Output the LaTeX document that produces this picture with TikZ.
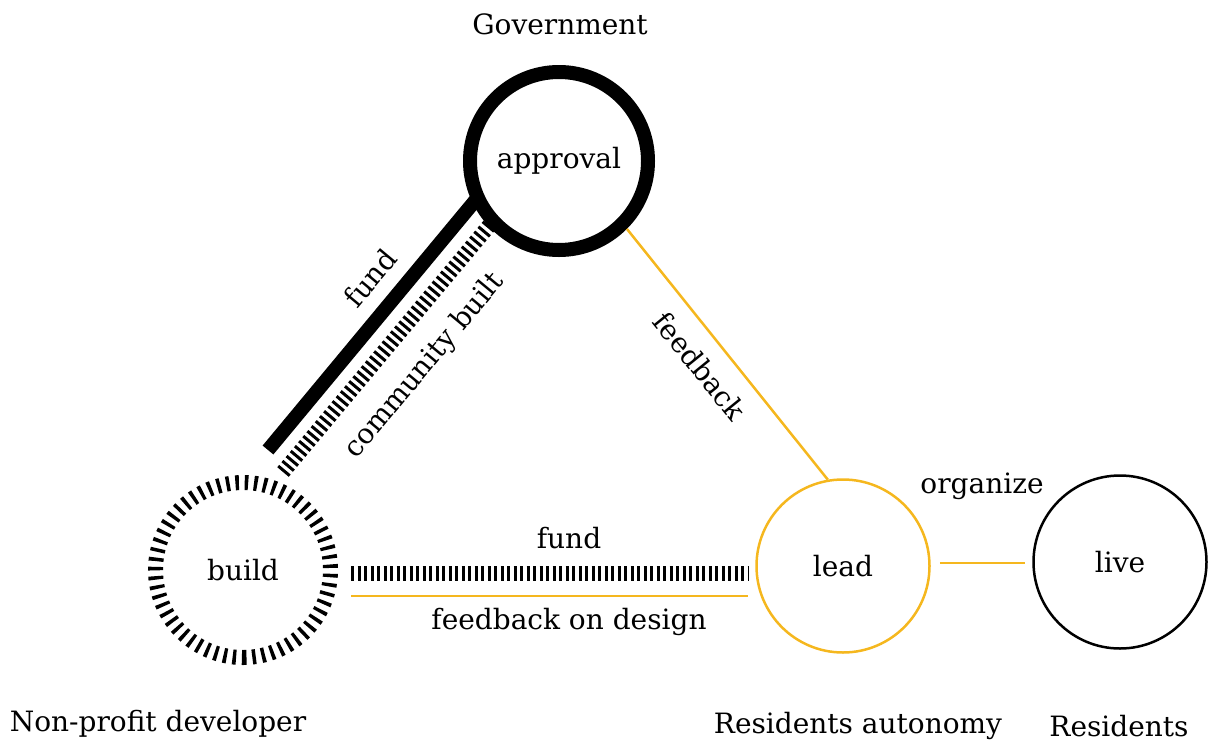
\documentclass[tikz,border=0pt]{standalone}
\usepackage{fontspec}
\setmainfont{DejaVu Serif}
\usetikzlibrary{positioning,calc}
\definecolor{goldline}{RGB}{245,183,30}

\begin{document}
\begin{tikzpicture}[x=1pt, y=-1pt,
    every node/.style={font=\fontsize{28}{32}\selectfont},
    hub/.style={circle, inner sep=0pt},
    ticklink/.style={line width=15, dash pattern=on 3 off 3.5},
    ringtick/.style={line width=15, dash pattern=on 3.5 off 5.8},
    solidlink/.style={line width=14},
    goldlink/.style={goldline, line width=2.5}]
  \useasboundingbox (0,0) rectangle (1215,742);
  %% roles
  \node[hub, draw, line width=14, minimum size=178] (approval) at (559,161) {approval};
  \node[hub, minimum size=190] (build) at (243,570) {build};
  \draw[ringtick] ([yshift=-87.5pt]build.center) arc[start angle=-90, delta angle=360, radius=87.5pt];
  \node[hub, draw=goldline, line width=2.5, minimum size=173] (lead) at (843,566) {lead};
  \node[hub, draw, line width=2.5, minimum size=173] (live) at (1120,562) {live};
  %% actors
  \node (gov) at (560,24) {Government};
  \node (npd) at (158,724) {Non-profit developer};
  \node (resaut) at (858,726) {Residents autonomy};
  \node (res) at (1119,726) {Residents};
  %% government <-> developer
  \coordinate (fundlo) at (268,450);
  \coordinate (fundhi) at (479,196);
  \coordinate (commlo) at (283,472);
  \coordinate (commhi) at (493,221);
  \draw[solidlink] (fundlo) -- (fundhi);
  \draw[ticklink] (commlo) -- (commhi);
  \node[rotate=50.3] (fundlbl) at (370,278) {fund};
  \node[rotate=50.3] (commlbl) at (425,366) {community built};
  %% developer <-> residents
  \draw[ticklink] ([shift={(13,3)}]build.east) -- ([shift={(-7,7)}]lead.west);
  \draw[goldlink] ([shift={(13,26)}]build.east) -- ([shift={(-7,30)}]lead.west);
  \node (fundlbl2) at (569,538) {fund};
  \node (designlbl) at (569,622) {feedback on design};
  %% residents -> government
  \draw[goldlink] (approval.-45) -- (lead.100);
  \node[rotate=-50.9] (fblbl) at (700,366) {feedback};
  %% residents
  \draw[goldlink] ([shift={(9,-3)}]lead.east) -- ([shift={(-7,1)}]live.west);
  \node (orglbl) at (982,486) {organize};
\end{tikzpicture}
\end{document}
